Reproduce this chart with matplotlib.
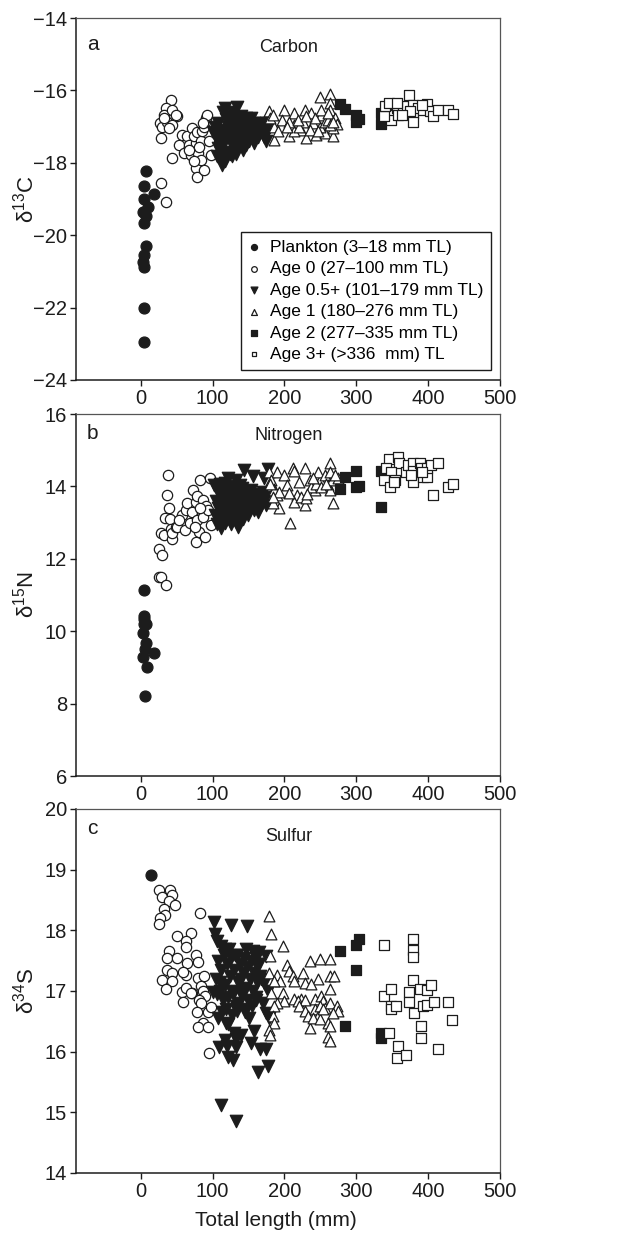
import numpy as np
import matplotlib
matplotlib.use('Agg')
import matplotlib.pyplot as plt

plt.rcParams['font.family'] = ['Liberation Sans', 'DejaVu Sans']
plt.rcParams['mathtext.default'] = 'regular'

# ---- panel a: carbon ----
c_plank_x = [5, 4, 5, 3, 4, 8, 5, 8, 3, 10, 4, 4, 7, 18]
c_plank_y = [-22.94, -22.02, -20.87, -20.73, -20.54, -20.31, -19.67, -19.48,
             -19.35, -19.21, -19.0, -18.64, -18.24, -18.86]

c_age0_x = [42, 35, 33, 44, 51, 27, 29, 37, 44, 28, 40, 49, 33, 43, 28, 35,
            57, 53, 64, 60, 67, 72, 70, 77, 74, 79, 77, 78, 80, 84, 86, 88,
            91, 92, 88, 84, 95, 81, 98, 87, 67, 74]
c_age0_y = [-16.26, -16.49, -16.67, -16.53, -16.72, -16.90, -17.0, -16.86,
            -16.95, -17.32, -17.04, -16.67, -16.76, -17.87, -18.56, -19.09,
            -17.23, -17.50, -17.27, -17.73, -17.50, -17.04, -17.78, -17.46,
            -17.27, -17.16, -18.15, -18.38, -17.73, -17.41, -17.13, -18.19,
            -16.76, -16.67, -17.0, -17.92, -17.41, -17.55, -17.78, -16.90,
            -17.64, -17.96]

c_age05_x = [103, 105, 107, 108, 110, 112, 113, 114, 115, 116, 117, 118, 119,
             120, 121, 122, 123, 124, 125, 126, 127, 128, 129, 130, 131, 132,
             133, 134, 135, 136, 137, 138, 139, 140, 141, 142, 143, 144, 145,
             146, 147, 148, 150, 151, 152, 153, 155, 156, 157, 158, 160, 162,
             163, 165, 166, 168, 170, 172, 174, 175, 177, 106, 109, 111, 118,
             100, 127, 133]
c_age05_y = [-17.0, -17.3, -17.6, -16.9, -17.2, -17.5, -18.05, -16.6, -17.9,
             -17.1, -17.4, -16.5, -16.8, -17.7, -17.0, -17.3, -16.7, -17.75,
             -17.2, -16.9, -17.5, -17.0, -16.6, -17.35, -17.1, -16.8, -17.6,
             -16.45, -17.2, -17.0, -17.45, -16.9, -17.3, -16.7, -17.1, -17.65,
             -16.85, -17.25, -17.0, -17.5, -16.75, -17.2, -16.95, -17.4, -17.1,
             -16.75, -17.3, -17.0, -17.45, -16.9, -17.2, -17.0, -17.3, -16.9,
             -17.15, -17.05, -16.95, -17.3, -17.4, -16.9, -17.1, -17.8, -17.85,
             -17.4, -17.95, -17.15, -17.8, -17.75]

c_age1_x = [249, 264, 264, 179, 199, 213, 228, 237, 251, 263, 270, 273, 186,
            186, 207, 223, 230, 244, 256, 268, 268, 214, 226, 240, 249, 197,
            191, 214, 242, 256, 261, 263, 207, 221, 235, 247, 180, 184, 203,
            219, 230, 251, 261, 268]
c_age1_y = [-16.17, -16.10, -16.35, -16.58, -16.53, -16.63, -16.53, -16.63,
            -16.67, -16.53, -16.76, -16.92, -17.0, -17.36, -17.27, -17.09,
            -17.32, -17.23, -17.18, -17.25, -17.04, -16.95, -16.86, -16.90,
            -17.0, -16.81, -17.13, -17.13, -16.76, -16.86, -16.81, -16.95,
            -16.88, -17.0, -17.09, -17.13, -16.76, -16.67, -17.0, -16.81,
            -16.72, -16.53, -16.63, -16.86]

c_age2_x = [277, 284, 299, 300, 304, 334, 334]
c_age2_y = [-16.38, -16.52, -16.68, -16.88, -16.80, -16.62, -16.92]

c_age3_x = [374, 342, 347, 349, 356, 358, 338, 340, 345, 365, 370, 379, 379,
            379, 386, 393, 399, 403, 407, 414, 428, 434, 356, 391, 375, 363]
c_age3_y = [-16.12, -16.53, -16.67, -16.81, -16.49, -16.67, -16.72, -16.44,
            -16.35, -16.53, -16.44, -16.40, -16.63, -16.86, -16.49, -16.53,
            -16.37, -16.58, -16.70, -16.53, -16.53, -16.65, -16.35, -16.40,
            -16.58, -16.67]

# ---- panel b: nitrogen ----
n_plank_x = [4, 4, 7, 3, 7, 6, 3, 18, 9, 6, 5, 5]
n_plank_y = [11.15, 10.41, 10.21, 9.95, 9.68, 9.52, 9.29, 9.40, 9.01, 8.20,
             10.19, 10.35]

n_age0_x = [38, 36, 39, 34, 41, 28, 33, 42, 44, 43, 25, 29, 25, 28, 35, 49,
            51, 57, 61, 63, 65, 68, 71, 73, 77, 79, 78, 81, 77, 83, 85, 87,
            89, 87, 91, 93, 96, 98, 82, 75, 54]
n_age0_y = [14.31, 13.76, 13.39, 13.14, 13.09, 12.72, 12.65, 12.81, 12.56,
            12.70, 12.26, 12.10, 11.50, 11.50, 11.29, 12.88, 12.87, 13.21,
            12.79, 13.35, 13.53, 12.98, 13.30, 13.90, 13.58, 13.73, 13.07,
            12.75, 12.47, 14.18, 13.30, 13.62, 12.59, 13.16, 13.46, 13.35,
            14.22, 12.93, 13.39, 12.88, 13.07]

n_age05_x = [102, 104, 105, 106, 107, 108, 110, 111, 112, 113, 114, 115, 116,
             117, 118, 119, 120, 121, 122, 123, 124, 125, 126, 127, 128, 129,
             130, 131, 132, 133, 134, 135, 136, 137, 138, 139, 140, 141, 142,
             143, 144, 145, 146, 147, 148, 149, 150, 152, 154, 156, 157, 158,
             160, 162, 163, 165, 167, 170, 172, 174, 175, 177, 109, 119, 127,
             133, 139]
n_age05_y = [14.04, 13.2, 13.6, 12.95, 13.85, 13.4, 13.1, 14.08, 12.85, 13.7,
             13.3, 13.95, 13.5, 13.0, 14.1, 13.65, 13.25, 13.8, 14.22, 13.45,
             13.05, 13.9, 12.96, 13.6, 13.3, 14.0, 13.75, 13.15, 14.18, 13.5,
             13.85, 12.88, 13.35, 13.7, 14.05, 13.2, 13.55, 13.95, 13.4, 13.1,
             14.45, 13.65, 13.3, 13.85, 13.5, 13.21, 13.75, 13.45, 13.9, 14.29,
             13.6, 13.35, 13.8, 13.55, 13.30, 13.71, 13.5, 13.85, 14.22, 13.48,
             13.7, 14.47, 13.55, 13.1, 13.95, 13.05, 13.65]

n_age1_x = [179, 189, 200, 212, 213, 228, 263, 208, 193, 184, 182, 186, 189,
            203, 217, 221, 214, 228, 223, 235, 242, 249, 247, 256, 261, 263,
            266, 268, 275, 207, 230, 237, 244, 251, 258, 186, 192, 180, 184,
            240, 263, 270, 232]
n_age1_y = [14.41, 14.41, 14.31, 14.50, 14.43, 14.50, 14.64, 12.98, 13.39,
            13.53, 14.17, 13.94, 13.76, 14.04, 13.76, 14.13, 13.58, 13.48,
            13.71, 14.17, 13.90, 14.17, 14.41, 14.31, 14.04, 13.90, 14.17,
            13.53, 14.22, 13.81, 13.67, 13.99, 14.08, 13.99, 14.08, 13.90,
            13.85, 14.08, 13.71, 14.22, 14.41, 14.31, 13.79]

n_age2_x = [284, 277, 299, 299, 304, 334, 334]
n_age2_y = [14.27, 13.94, 14.43, 13.97, 14.01, 14.43, 13.42]

n_age3_x = [345, 358, 360, 342, 349, 339, 347, 354, 352, 369, 372, 379, 379,
            379, 388, 390, 393, 399, 398, 404, 407, 414, 428, 434, 376, 392]
n_age3_y = [14.75, 14.80, 14.65, 14.50, 14.41, 14.19, 13.97, 14.19, 14.13,
            14.41, 14.59, 14.64, 14.43, 14.13, 14.65, 14.50, 14.25, 14.25,
            14.50, 14.59, 13.76, 14.65, 13.97, 14.08, 14.31, 14.41]

# ---- panel c: sulfur ----
s_plank_x = [15]
s_plank_y = [18.91]

s_age0_x = [25, 30, 41, 43, 40, 48, 33, 34, 27, 26, 83, 51, 70, 63, 63, 40,
            37, 51, 29, 36, 44, 43, 35, 65, 63, 59, 57, 59, 63, 77, 80, 72,
            80, 84, 87, 90, 88, 81, 84, 78, 93, 87, 80, 94, 95, 98, 70]
s_age0_y = [18.66, 18.55, 18.66, 18.59, 18.49, 18.41, 18.35, 18.25, 18.20,
            18.10, 18.29, 17.90, 17.96, 17.83, 17.73, 17.66, 17.54, 17.54,
            17.18, 17.35, 17.30, 17.17, 17.04, 17.46, 17.26, 17.31, 16.98,
            16.82, 17.05, 17.59, 17.48, 16.96, 17.22, 17.09, 17.0, 16.92,
            17.25, 16.85, 16.80, 16.65, 16.65, 16.48, 16.41, 16.41, 15.97,
            16.74, 16.97]

s_age05_x = [102, 126, 148, 104, 106, 112, 112, 133, 163, 177, 122, 128, 109,
             120, 133, 154, 166, 174, 133, 130, 158, 140, 118, 107, 119, 175,
             170, 179, 134, 147, 160, 175, 165, 156, 161, 168, 172, 177, 105,
             108, 110, 112, 114, 116, 118, 120, 122, 124, 126, 128, 130, 132,
             134, 136, 138, 140, 142, 144, 146, 148, 150, 152, 154, 156, 158,
             160, 162, 164, 113, 119, 127, 137, 145, 151, 106, 117, 131, 143,
             100, 123, 139, 155, 166, 111, 129, 147, 161, 121]
s_age05_y = [18.13, 18.08, 18.07, 17.94, 17.83, 17.75, 15.12, 14.86, 15.67,
             15.76, 15.92, 15.86, 16.08, 16.09, 16.08, 16.14, 16.04, 16.04,
             16.21, 16.30, 16.34, 16.27, 16.20, 16.56, 16.48, 16.64, 16.81,
             16.56, 16.67, 16.70, 16.85, 17.58, 17.64, 17.66, 17.44, 17.19,
             17.14, 17.0, 17.2, 17.5, 17.0, 17.35, 16.85, 17.6, 17.1, 17.45,
             16.9, 17.25, 17.55, 17.0, 17.35, 16.75, 17.6, 17.15, 17.45, 16.95,
             17.3, 17.55, 17.05, 17.4, 16.85, 17.2, 17.5, 17.0, 17.3, 16.9,
             17.15, 17.45, 16.65, 16.7, 16.6, 16.8, 16.65, 16.55, 16.95, 17.7,
             17.6, 17.0, 16.98, 17.7, 17.2, 16.75, 17.25, 17.15, 16.95, 17.7,
             17.55, 16.45]

s_age1_x = [178, 182, 198, 180, 203, 207, 212, 214, 178, 189, 194, 185, 182,
            198, 199, 189, 186, 184, 186, 178, 180, 236, 249, 263, 226, 247,
            263, 269, 228, 237, 264, 214, 223, 219, 229, 242, 251, 254, 221,
            228, 233, 242, 247, 249, 256, 263, 273, 275, 261, 263, 235, 261,
            264, 240, 249, 268, 254]
s_age1_y = [18.24, 17.94, 17.75, 17.58, 17.43, 17.33, 17.25, 17.17, 17.30,
            17.27, 17.17, 17.17, 16.97, 16.97, 16.83, 16.81, 16.75, 16.59,
            16.48, 16.36, 16.28, 17.50, 17.52, 17.52, 17.30, 17.20, 17.25,
            17.25, 17.14, 17.11, 17.04, 16.86, 16.87, 16.83, 16.85, 16.86,
            16.92, 16.83, 16.75, 16.67, 16.59, 16.70, 16.59, 16.75, 16.72,
            16.81, 16.75, 16.67, 16.48, 16.42, 16.39, 16.24, 16.17, 16.56,
            16.54, 16.63, 16.70]

s_age2_x = [278, 299, 304, 299, 284, 334, 334]
s_age2_y = [17.66, 17.76, 17.86, 17.35, 16.42, 16.30, 16.23]

s_age3_x = [339, 379, 379, 379, 379, 339, 349, 348, 349, 355, 374, 374, 380,
            389, 399, 404, 393, 399, 408, 390, 390, 345, 358, 357, 369, 414,
            428, 433]
s_age3_y = [17.76, 17.86, 17.68, 17.56, 17.18, 16.92, 17.03, 16.75, 16.70,
            16.76, 16.98, 16.82, 16.63, 17.04, 17.02, 17.10, 16.76, 16.77,
            16.82, 16.42, 16.23, 16.30, 16.10, 15.90, 15.95, 16.04, 16.82,
            16.52]

group_labels = ['Plankton (3–18 mm TL)', 'Age 0 (27–100 mm TL)',
                'Age 0.5+ (101–179 mm TL)', 'Age 1 (180–276 mm TL)',
                'Age 2 (277–335 mm TL)', 'Age 3+ (>336  mm) TL']

panels = [
    dict(letter='a', name='Carbon', ylabel='δ$^{13}$C', ylim=(-24, -14),
         yticks=[-24, -22, -20, -18, -16, -14], letter_y=0.912, name_y=0.906,
         groups=[(c_plank_x, c_plank_y), (c_age0_x, c_age0_y),
                 (c_age05_x, c_age05_y), (c_age1_x, c_age1_y),
                 (c_age2_x, c_age2_y), (c_age3_x, c_age3_y)]),
    dict(letter='b', name='Nitrogen', ylabel='δ$^{15}$N', ylim=(6, 16),
         yticks=[6, 8, 10, 12, 14, 16], letter_y=0.931, name_y=0.928,
         groups=[(n_plank_x, n_plank_y), (n_age0_x, n_age0_y),
                 (n_age05_x, n_age05_y), (n_age1_x, n_age1_y),
                 (n_age2_x, n_age2_y), (n_age3_x, n_age3_y)]),
    dict(letter='c', name='Sulfur', ylabel='δ$^{34}$S', ylim=(14, 20),
         yticks=[14, 15, 16, 17, 18, 19, 20], letter_y=0.931, name_y=0.912,
         groups=[(s_plank_x, s_plank_y), (s_age0_x, s_age0_y),
                 (s_age05_x, s_age05_y), (s_age1_x, s_age1_y),
                 (s_age2_x, s_age2_y), (s_age3_x, s_age3_y)]),
]

# marker style per group: marker, face, size
ink = '#1c1c1c'
styles = [('o', ink, 62), ('o', 'white', 55), ('v', ink, 80),
          ('^', 'white', 60), ('s', ink, 50), ('s', 'white', 42)]

fig = plt.figure(figsize=(6.38, 12.36), dpi=100)
W, H = 638, 1236
boxes = [(18, 380), (414, 776), (809, 1173)]  # top/bottom in pixels
left_px, right_px = 76, 500

axes = []
for p, (top, bot) in zip(panels, boxes):
    ax = fig.add_axes([left_px / W, 1 - bot / H, (right_px - left_px) / W,
                       (bot - top) / H])
    for (gx, gy), (mk, fc, sz), lab in zip(p['groups'], styles, group_labels):
        ax.scatter(gx, gy, marker=mk, s=sz, facecolors=fc, edgecolors=ink,
                   linewidths=0.9, label=lab)
    ax.set_xlim(-90, 500)
    ax.set_ylim(*p['ylim'])
    ax.set_xticks([0, 100, 200, 300, 400, 500])
    ax.set_yticks(p['yticks'])
    ax.tick_params(direction='out', length=4, width=1, labelsize=14.5, pad=2.5,
                   top=False, right=False, colors=ink)
    for side in ['left', 'bottom']:
        ax.spines[side].set_color(ink)
        ax.spines[side].set_linewidth(1.1)
    for side in ['top', 'right']:
        ax.spines[side].set_color('#555555')
        ax.spines[side].set_linewidth(0.9)
    ax.set_ylabel(p['ylabel'], fontsize=16, color=ink)
    ax.yaxis.set_label_coords(-0.088, 0.5)
    ax.text(0.026, p['letter_y'], p['letter'], transform=ax.transAxes,
            fontsize=15, va='baseline', ha='left', color=ink)
    ax.text(0.502, p['name_y'], p['name'], transform=ax.transAxes,
            fontsize=13, va='baseline', ha='center', color=ink)
    axes.append(ax)

leg = axes[0].legend(loc='lower right', bbox_to_anchor=(0.979, 0.028),
                     borderaxespad=0, fontsize=12.5, handlelength=0.6,
                     handletextpad=0.6, borderpad=0.45, labelspacing=0.36,
                     markerscale=0.55, scatterpoints=1, fancybox=False,
                     framealpha=1, edgecolor=ink)
leg.get_frame().set_linewidth(1.0)

axes[2].set_xlabel('Total length (mm)', fontsize=15, color=ink)
axes[2].xaxis.set_label_coords(0.472, -0.105)

fig.savefig('out.png', dpi=100)
